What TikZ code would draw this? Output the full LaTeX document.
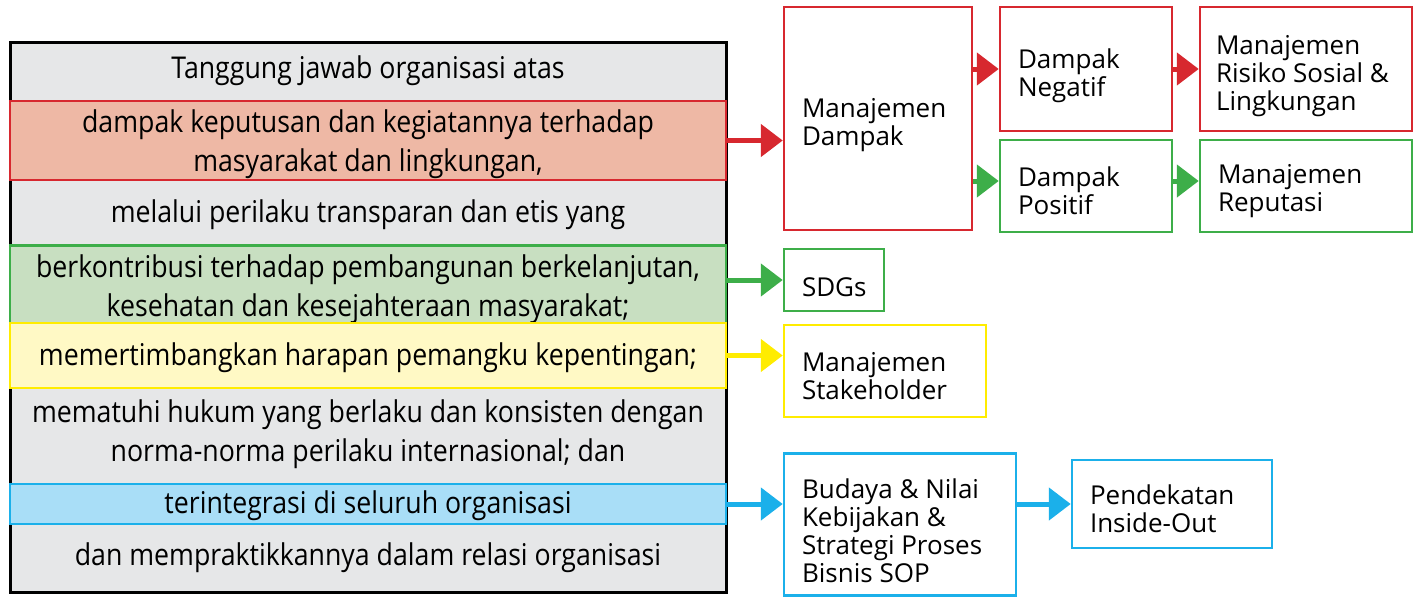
\documentclass[tikz,border=0pt]{standalone}
\usepackage{fontspec}
\setmainfont{Open Sans}
\newfontfamily\narrowfont[FakeStretch=0.89]{Open Sans}
\usetikzlibrary{arrows.meta,positioning}

\definecolor{rowgray}{HTML}{E6E7E8}
\definecolor{csrred}{HTML}{D7282F}
\definecolor{redfill}{HTML}{EEB8A5}
\definecolor{csrgreen}{HTML}{3DAE49}
\definecolor{greenfill}{HTML}{C8DFC1}
\definecolor{csryellow}{HTML}{FFEC00}
\definecolor{yellowfill}{HTML}{FFF9C5}
\definecolor{csrblue}{HTML}{1BB0EA}
\definecolor{bluefill}{HTML}{A9DEF7}

% height of the strut that opens every text block
\newcommand\liftht{27pt}
\tikzset{
  lift/.code={\def\liftht{#1}},
  row/.style={text width=716pt, inner sep=0pt, align=flush center,
    font=\narrowfont\fontsize{30}{39}\selectfont,
    execute at begin node={\rule{0pt}{\liftht}}},
  band/.style={row, draw=#1, line width=2.5pt},
  item/.style={draw=#1, line width=2.5pt, rectangle, align=flush left,
    inner xsep=18pt, inner ysep=0pt, font=\fontsize{26}{28}\selectfont,
    lift=33pt, execute at begin node={\rule{0pt}{\liftht}}},
  arr/.style={draw=#1, line width=5pt, -{Triangle[length=22pt,width=32pt]}}
}

\begin{document}
\begin{tikzpicture}[x=1pt,y=-1pt]
  \useasboundingbox (0,0) rectangle (1415,597);

  % Left column: the definition, one row per phrase
  \draw[line width=3pt, fill=rowgray] (10,42) rectangle (726,592);
  \node[row] (title) at (368,69) {Tanggung jawab organisasi atas};
  \node[band=csrred, fill=redfill, minimum height=79pt, lift=31pt] (impact) at (368,140.5)
    {dampak keputusan dan kegiatannya terhadap\\masyarakat dan lingkungan,};
  \node[row] (ethics) at (368,213) {melalui perilaku transparan dan etis yang};
  \node[band=csrgreen, fill=greenfill, minimum height=77pt, lift=32pt] (sustain) at (368,284.5)
    {berkontribusi terhadap pembangunan berkelanjutan,\\kesehatan dan kesejahteraan masyarakat;};
  \node[band=csryellow, fill=yellowfill, minimum height=65pt] (expect) at (368,355.5)
    {memertimbangkan harapan pemangku kepentingan;};
  \node[row, lift=30pt] (law) at (368,431)
    {mematuhi hukum yang berlaku dan konsisten dengan\\norma-norma perilaku internasional; dan};
  \node[band=csrblue, fill=bluefill, minimum height=40pt] (integr) at (368,504)
    {terintegrasi di seluruh organisasi};
  \node[row] (practice) at (368,556) {dan mempraktikkannya dalam relasi organisasi};

  % Right side boxes
  \node[item=csrred, minimum height=223pt, text width=152pt] (mgmt) at (878,118.5)
    {Manajemen\\Dampak};
  \node[item=csrred, minimum height=124pt, text width=136pt] (neg) at (1086,69)
    {Dampak\\Negatif};
  \node[item=csrred, minimum height=124pt, text width=180pt, inner xsep=16pt] (risk) at (1306,69)
    {Manajemen\\Risiko Sosial \&\\Lingkungan};
  \node[item=csrgreen, minimum height=92pt, text width=136pt, lift=29pt] (pos) at (1086,186)
    {Dampak\\Positif};
  \node[item=csrgreen, minimum height=92pt, text width=176pt, lift=29pt] (reput) at (1306,186)
    {Manajemen\\Reputasi};
  \node[item=csrgreen, minimum height=62pt, text width=64pt] (sdgs) at (834,280)
    {SDGs};
  \node[item=csryellow, minimum height=92pt, text width=166pt, lift=29pt] (stake) at (885,371)
    {Manajemen\\Stakeholder};
  \node[item=csrblue, minimum height=142pt, text width=196pt] (culture) at (900,524.5)
    {Budaya \& Nilai\\Kebijakan \&\\Strategi Proses\\Bisnis SOP};
  \node[item=csrblue, minimum height=88pt, text width=164pt, lift=29pt] (inout) at (1172,504)
    {Pendekatan\\Inside-Out};

  % Arrows
  \draw[arr=csrred] (impact.east) -- (impact.east -| mgmt.west);
  \draw[arr=csrred] (neg.west -| mgmt.east) -- (neg.west);
  \draw[arr=csrred] (neg.east) -- (risk.west);
  \draw[arr=csrgreen] ([yshift=5pt]pos.west -| mgmt.east) -- ([yshift=5pt]pos.west);
  \draw[arr=csrgreen] ([yshift=5pt]pos.east) -- ([yshift=5pt]pos.east -| reput.west);
  \draw[arr=csrgreen] (sdgs.west -| sustain.east) -- (sdgs.west);
  \draw[arr=csryellow] (expect.east) -- (expect.east -| stake.west);
  \draw[arr=csrblue] (integr.east) -- (integr.east -| culture.west);
  \draw[arr=csrblue] (inout.west -| culture.east) -- (inout.west);
\end{tikzpicture}
\end{document}
